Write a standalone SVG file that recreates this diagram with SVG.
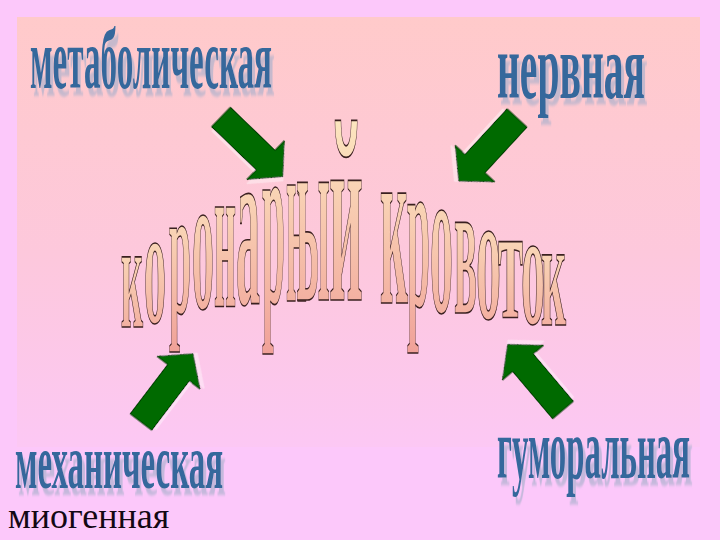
<svg xmlns="http://www.w3.org/2000/svg" width="720" height="540" viewBox="0 0 720 540">
<defs>
<linearGradient id="bg" x1="0" y1="0" x2="0" y2="1">
<stop offset="0" stop-color="#FFCACA"/>
<stop offset="0.55" stop-color="#FDC8DC"/>
<stop offset="1" stop-color="#FCC8F4"/>
</linearGradient>
<linearGradient id="lg" x1="0" y1="0" x2="0" y2="1">
<stop offset="0" stop-color="#FFF6C8"/>
<stop offset="1" stop-color="#F0A098"/>
</linearGradient>
<filter id="ds" x="-5%" y="-20%" width="115%" height="150%">
<feDropShadow dx="3" dy="3" stdDeviation="0.6" flood-color="#A8B0CC" flood-opacity="0.65"/>
</filter>
<filter id="ads" x="-20%" y="-20%" width="150%" height="150%">
<feDropShadow dx="3" dy="3" stdDeviation="0.5" flood-color="#FFFFFF" flood-opacity="0.4"/>
</filter>
<style>
.wa{font-family:"Liberation Serif","Times New Roman",serif;font-weight:bold;fill:#35689C;filter:url(#ds)}
.arc{font-family:"Liberation Serif","Times New Roman",serif;font-size:40px;font-weight:bold;fill:url(#lg);stroke:#3A2020;stroke-width:1.2;text-anchor:middle}
.arc text{vector-effect:non-scaling-stroke}
.arw{fill:#066A06;stroke:#043A04;stroke-width:1;filter:url(#ads)}
.plain{font-family:"Liberation Serif","Times New Roman",serif;font-size:36px;fill:#140814}
</style>
<polygon id="ar" points="0,-13.5 62,-13.5 62,-27 86,0 62,27 62,13.5 0,13.5"/>
</defs>
<rect width="720" height="540" fill="#FCC8FA"/>
<rect x="17" y="17" width="683" height="430" fill="url(#bg)"/>

<g id="title">
<g class="arc">
<text vector-effect="non-scaling-stroke" transform="translate(143,327) scale(1,3.80)" textLength="22" lengthAdjust="spacingAndGlyphs" x="-11">к</text>
<text vector-effect="non-scaling-stroke" transform="translate(166,322) scale(1,4.18)" textLength="22" lengthAdjust="spacingAndGlyphs" x="-11">о</text>
<text vector-effect="non-scaling-stroke" transform="translate(191,313) scale(1,4.62)" textLength="22" lengthAdjust="spacingAndGlyphs" x="-11">р</text>
<text vector-effect="non-scaling-stroke" transform="translate(214,308) scale(1,4.95)" textLength="22" lengthAdjust="spacingAndGlyphs" x="-11">о</text>
<text vector-effect="non-scaling-stroke" transform="translate(236,306) scale(1,5.38)" textLength="22" lengthAdjust="spacingAndGlyphs" x="-11">н</text>
<text vector-effect="non-scaling-stroke" transform="translate(260,304) scale(1,5.87)" textLength="24" lengthAdjust="spacingAndGlyphs" x="-12">а</text>
<text vector-effect="non-scaling-stroke" transform="translate(285,302) scale(1,6.09)" textLength="23" lengthAdjust="spacingAndGlyphs" x="-11.5">р</text>
<text vector-effect="non-scaling-stroke" transform="translate(307,301) scale(1,6.30)" textLength="21" lengthAdjust="spacingAndGlyphs" x="-10.5">н</text>
<text vector-effect="non-scaling-stroke" transform="translate(330,300) scale(1,6.41)" textLength="34" lengthAdjust="spacingAndGlyphs" x="-17">ы</text>
<text vector-effect="non-scaling-stroke" transform="translate(363,300) scale(1,6.52)" textLength="34" lengthAdjust="spacingAndGlyphs" x="-17">й</text>
<text vector-effect="non-scaling-stroke" transform="translate(408,303) scale(1,5.98)" textLength="28" lengthAdjust="spacingAndGlyphs" x="-14">к</text>
<text vector-effect="non-scaling-stroke" transform="translate(430,306) scale(1,5.49)" textLength="23" lengthAdjust="spacingAndGlyphs" x="-11.5">р</text>
<text vector-effect="non-scaling-stroke" transform="translate(453,312) scale(1,5.38)" textLength="23" lengthAdjust="spacingAndGlyphs" x="-11.5">о</text>
<text vector-effect="non-scaling-stroke" transform="translate(477,313) scale(1,4.95)" textLength="23" lengthAdjust="spacingAndGlyphs" x="-11.5">в</text>
<text vector-effect="non-scaling-stroke" transform="translate(501,318) scale(1,4.62)" textLength="25" lengthAdjust="spacingAndGlyphs" x="-12.5">о</text>
<text vector-effect="non-scaling-stroke" transform="translate(523,318) scale(1,4.13)" textLength="25" lengthAdjust="spacingAndGlyphs" x="-12.5">т</text>
<text vector-effect="non-scaling-stroke" transform="translate(545,323) scale(1,4.08)" textLength="24" lengthAdjust="spacingAndGlyphs" x="-12">о</text>
<text vector-effect="non-scaling-stroke" transform="translate(566,325) scale(1,3.80)" textLength="25" lengthAdjust="spacingAndGlyphs" x="-12.5">к</text>
</g>
</g>

<g id="connectors">
<use href="#ar" class="arw" transform="translate(221,117) rotate(44)"/>
<use href="#ar" class="arw" transform="translate(517,118) rotate(132.7)"/>
<use href="#ar" class="arw" transform="translate(141,422) rotate(-52.7)"/>
<use href="#ar" class="arw" transform="translate(563,410) rotate(-130.2)"/>
</g>

<g id="metabolic">
<text class="wa" transform="translate(30,88) scale(1,2.58)" font-size="34" textLength="242" lengthAdjust="spacingAndGlyphs">метаболическая</text>
</g>
<g id="nervous">
<text class="wa" transform="translate(497,98) scale(1,2.24)" font-size="42" textLength="148" lengthAdjust="spacingAndGlyphs">нервная</text>
</g>
<g id="mechanical">
<text class="wa" transform="translate(15,488) scale(1,2.32)" font-size="34" textLength="208" lengthAdjust="spacingAndGlyphs">механическая</text>
</g>
<g id="humoral">
<text class="wa" transform="translate(497,478) scale(1,2.5)" font-size="35" textLength="193" lengthAdjust="spacingAndGlyphs">гуморальная</text>
</g>
<g id="myogenic">
<text class="plain" x="8" y="528">миогенная</text>
</g>
</svg>
